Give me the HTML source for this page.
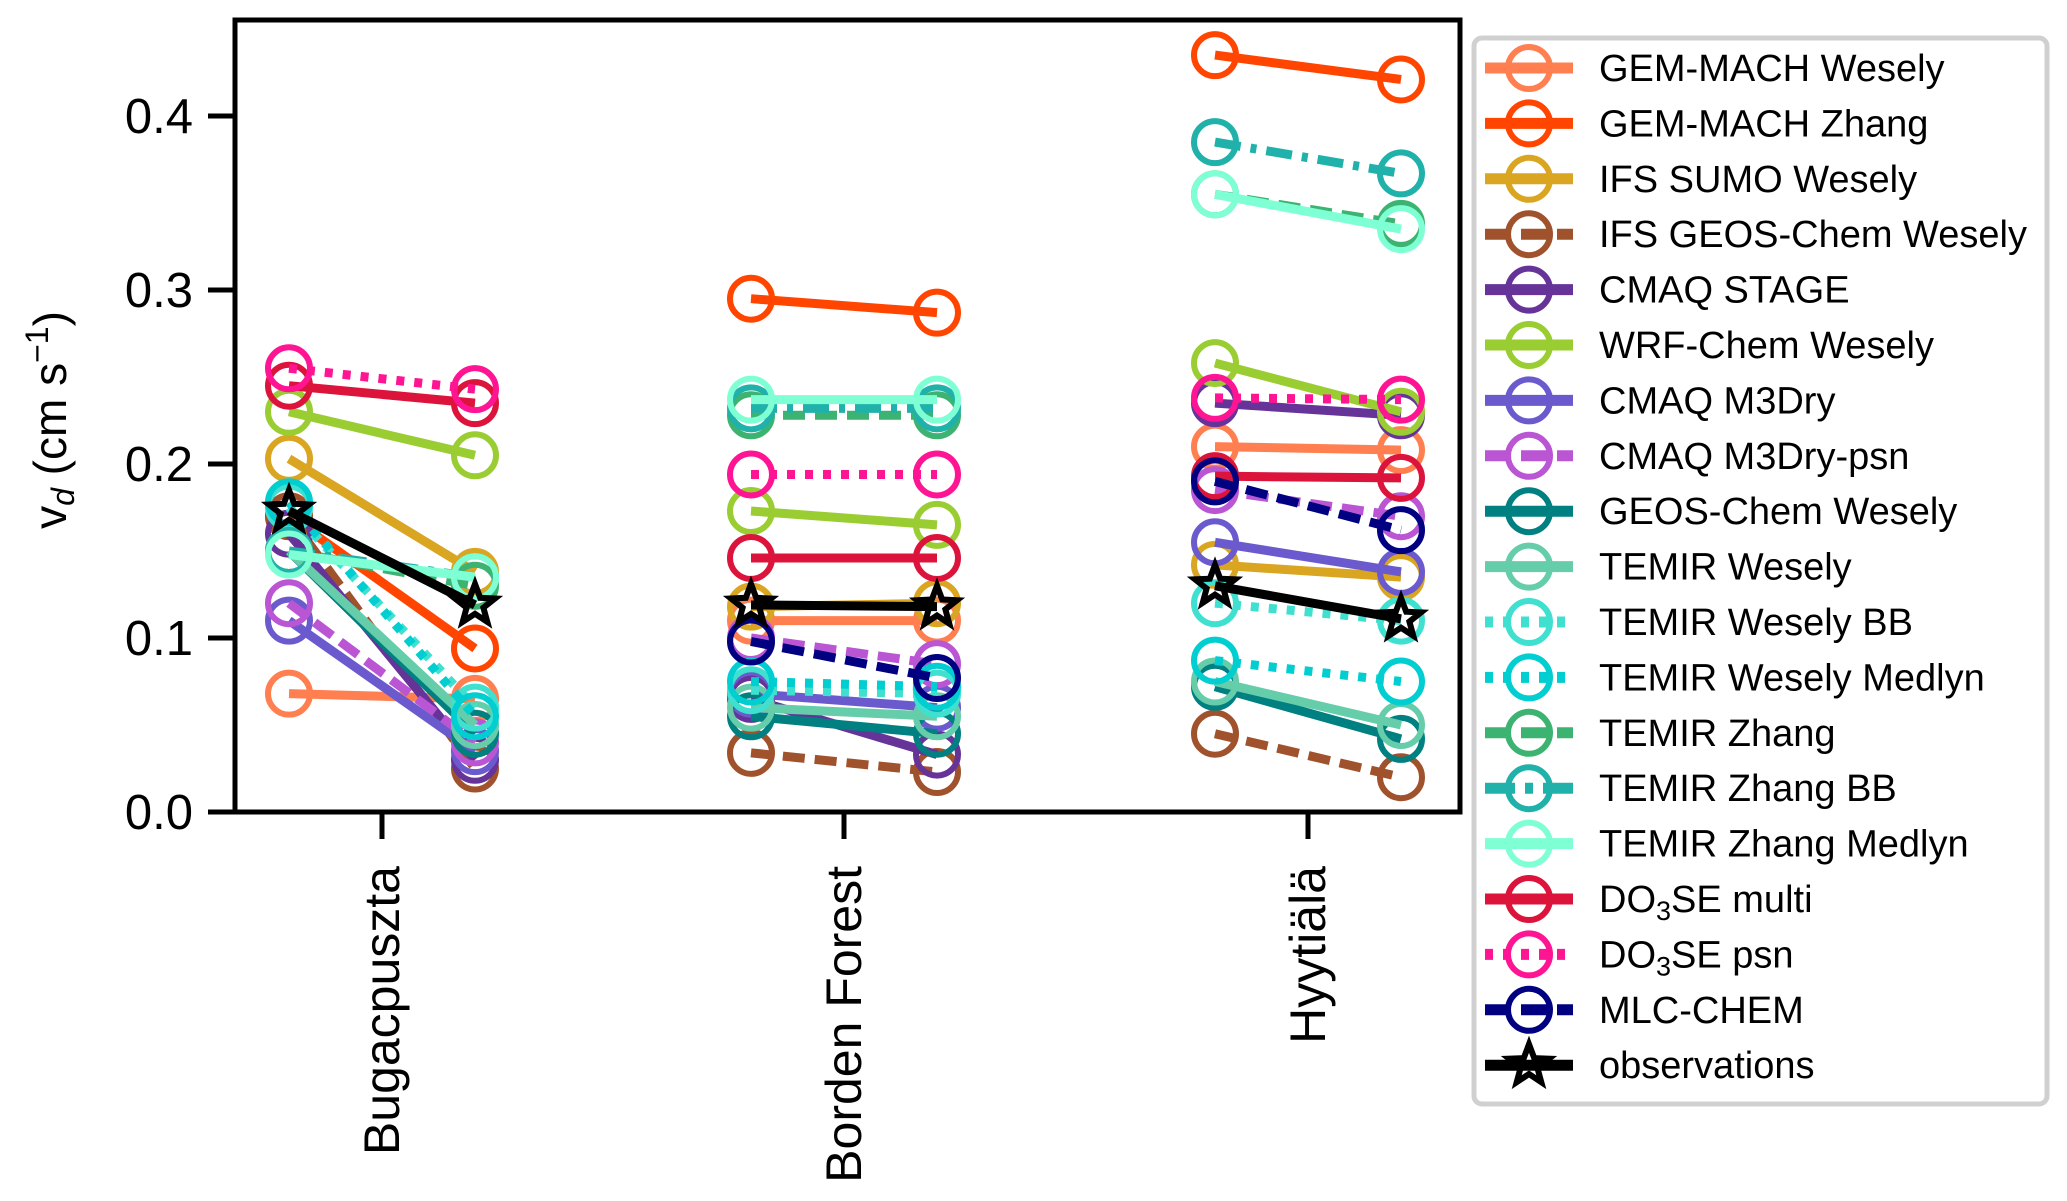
<!DOCTYPE html>
<html><head><meta charset="utf-8"><style>
html,body{margin:0;padding:0;background:#fff;}
svg{display:block;font-family:"Liberation Sans",Arial,sans-serif;}
</style></head><body>
<svg id="chart" width="2067" height="1201" viewBox="0 0 2067 1201" xmlns="http://www.w3.org/2000/svg">
<g id="marks"></g>
<g id="axes"></g>
<g id="legend"></g>
</svg>
<script>
const sites = ["Bugacpuszta", "Borden Forest", "Hyytiälä"];
const yTicks = [0.0, 0.1, 0.2, 0.3, 0.4];
const yTickLabels = ["0.0", "0.1", "0.2", "0.3", "0.4"];
const seriesNames = ["GEM-MACH Wesely","GEM-MACH Zhang","IFS SUMO Wesely","IFS GEOS-Chem Wesely","CMAQ STAGE","WRF-Chem Wesely","CMAQ M3Dry","CMAQ M3Dry-psn","GEOS-Chem Wesely","TEMIR Wesely","TEMIR Wesely BB","TEMIR Wesely Medlyn","TEMIR Zhang","TEMIR Zhang BB","TEMIR Zhang Medlyn","DO3SE multi","DO3SE psn","MLC-CHEM","observations"];
const seriesColors = ["#ff7f50","#ff4500","#daa520","#a0522d","#663399","#9acd32","#6a5acd","#ba55d3","#008080","#66cdaa","#40e0d0","#00ced1","#3cb371","#20b2aa","#7fffd4","#dc143c","#ff1493","#000080","#000000"];
const seriesStyles = ["solid","solid","solid","dashed","solid","solid","solid","dashed","solid","solid","dotted","dotted","dashed","dashdot","solid","solid","dotted","dashed","solid"];
// values per series: [site][period0, period1]; null = no data
const vGemWesely = [[0.068,0.065],[0.110,0.110],[0.210,0.208]];
const vGemZhang = [[0.170,0.094],[0.295,0.287],[0.435,0.421]];
const vIfsSumo = [[0.203,0.138],[0.118,0.120],[0.142,0.135]];
const vIfsGeos = [[0.170,0.025],[0.034,0.023],[0.045,0.020]];
const vCmaqStage = [[0.160,0.030],[0.065,0.033],[0.235,0.228]];
const vWrf = [[0.230,0.205],[0.173,0.165],[0.258,0.230]];
const vM3Dry = [[0.110,0.035],[0.068,0.060],[0.155,0.138]];
const vM3DryPsn = [[0.120,0.040],[0.100,0.085],[0.185,0.170]];
const vGeosChem = [[0.150,0.045],[0.055,0.045],[0.072,0.042]];
const vTemirW = [[0.150,0.050],[0.060,0.055],[0.075,0.050]];
const vTemirWBB = [[0.175,0.060],[0.070,0.068],[0.120,0.110]];
const vTemirWMed = [[0.178,0.055],[0.075,0.072],[0.087,0.075]];
const vTemirZ = [[0.150,0.130],[0.228,0.228],[0.355,0.338]];
const vTemirZBB = [[0.150,0.135],[0.232,0.232],[0.385,0.367]];
const vTemirZMed = [[0.148,0.135],[0.237,0.237],[0.355,0.335]];
const vDo3seMulti = [[0.245,0.235],[0.146,0.146],[0.193,0.192]];
const vDo3sePsn = [[0.255,0.243],[0.194,0.194],[0.238,0.237]];
const vMlc = [null,[0.098,0.077],[0.190,0.162]];
const vObs = [[0.173,0.119],[0.119,0.118],[0.130,0.111]];
const seriesValues = [vGemWesely,vGemZhang,vIfsSumo,vIfsGeos,vCmaqStage,vWrf,vM3Dry,vM3DryPsn,vGeosChem,vTemirW,vTemirWBB,vTemirWMed,vTemirZ,vTemirZBB,vTemirZMed,vDo3seMulti,vDo3sePsn,vMlc,vObs];

const NS="http://www.w3.org/2000/svg";
const L=235,R=1460,T=20,B=812;
const siteX=[382,844,1308], off=93;
function yScale(v){return B-(v/0.4)*(B-116);}
function xScale(s,p){return siteX[s]+(p===0?-off:off);}
function mk(tag,attrs,parent){const e=document.createElementNS(NS,tag);for(const k in attrs)e.setAttribute(k,attrs[k]);parent.appendChild(e);return e;}
function dash(st){return st==="dashed"?"22,10":st==="dotted"?"8,10":st==="dashdot"?"26,10,6,10":"none";}
function star(cx,cy,r){let p=[];for(let i=0;i<10;i++){const a=-Math.PI/2+i*Math.PI/5;const rr=i%2?r*0.42:r;p.push((cx+rr*Math.cos(a)).toFixed(1)+","+(cy+rr*Math.sin(a)).toFixed(1));}return p.join(" ");}
const marks=document.getElementById('marks');
seriesValues.forEach((ser,i)=>{
  const g=mk('g',{},marks);
  
  
  ser.forEach((pair,s)=>{
    if(!pair)return;
    const x0=xScale(s,0),x1=xScale(s,1),y0=yScale(pair[0]),y1=yScale(pair[1]);
    const ln=mk('line',{x1:x0,y1:y0,x2:x1,y2:y1,stroke:seriesColors[i],'stroke-width':9,'stroke-dasharray':dash(seriesStyles[i])},g);
    
    
    [[x0,y0],[x1,y1]].forEach(pt=>{
      let m;
      if(i===18){m=mk('polygon',{points:star(pt[0],pt[1],21),fill:'none',stroke:'#000','stroke-width':6,'stroke-linejoin':'miter'},g);}
      else{m=mk('circle',{cx:pt[0],cy:pt[1],r:21,fill:'none',stroke:seriesColors[i],'stroke-width':6},g);}
      
      
    });
  });
});
const axes=document.getElementById('axes');
const frame=mk('rect',{x:L,y:T,width:R-L,height:B-T,fill:'none',stroke:'#000','stroke-width':5},axes);


yTicks.forEach((v,k)=>{
  const y=yScale(v);
  const t=mk('line',{x1:L-27,y1:y,x2:L,y2:y,stroke:'#000','stroke-width':5},axes);
  
  
  const tx=mk('text',{x:L-42,y:y+17,'text-anchor':'end','font-size':49},axes);
  tx.textContent=yTickLabels[k];
  
  
});
sites.forEach((s,k)=>{
  const x=siteX[k];
  const t=mk('line',{x1:x,y1:B,x2:x,y2:B+27,stroke:'#000','stroke-width':5},axes);
  
  
  const tx=mk('text',{x:0,y:0,'text-anchor':'end','font-size':50,transform:`translate(${x+17},866) rotate(-90)`},axes);
  tx.textContent=s;
  
  
});
const yl=mk('text',{x:0,y:0,'text-anchor':'middle','font-size':46,transform:'translate(66,420) rotate(-90)'},axes);
yl.innerHTML='v<tspan font-style="italic" font-size="32" dy="8">d</tspan><tspan dy="-8"> (cm s</tspan><tspan font-size="32" dy="-18">−1</tspan><tspan dy="18">)</tspan>';



const leg=document.getElementById('legend');
const box=mk('rect',{x:1474,y:38,width:573,height:1066,rx:8,fill:'#fff',stroke:'#d0d0d0','stroke-width':5},leg);


seriesNames.forEach((n,i)=>{
  const y=68+i*55.4;
  const g=mk('g',{},leg);
  
  
  mk('line',{x1:1485,y1:y,x2:1573,y2:y,stroke:seriesColors[i],'stroke-width':11,'stroke-dasharray':dash(seriesStyles[i])==='none'?'none':(seriesStyles[i]==='dotted'?'8,10':seriesStyles[i]==='dashdot'?'30,10,8,10':'26,10')},g);
  if(i===18)mk('polygon',{points:star(1529,y,21),fill:'none',stroke:'#000','stroke-width':6},g);
  else mk('circle',{cx:1529,cy:y,r:21,fill:'none',stroke:seriesColors[i],'stroke-width':6},g);
  const t=mk('text',{x:1599,y:y+13,'font-size':38},g);
  if(n.startsWith('DO3SE')){t.innerHTML='DO<tspan font-size="27" dy="8">3</tspan><tspan dy="-8">SE '+n.slice(6)+'</tspan>';}
  else t.textContent=n;
  
  
});
</script>
</body></html>
